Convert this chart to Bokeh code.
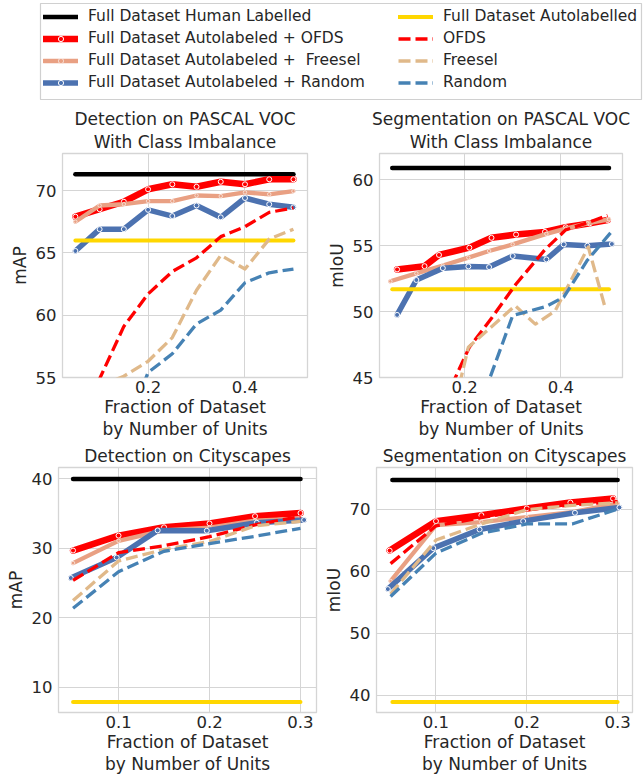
from bokeh.plotting import figure
from bokeh.models import Range1d, FixedTicker, Legend, LegendItem, Title
from bokeh.layouts import column, row
from bokeh.embed import file_html
from bokeh.resources import INLINE

FONT = "DejaVu Sans"
TXT = "#262626"
GRID = "#d5d5d5"

# ---------------- labels ----------------
series_labels = [
    "Full Dataset Human Labelled",
    "Full Dataset Autolabeled + OFDS",
    "Full Dataset Autolabeled +  Freesel",
    "Full Dataset Autolabeled + Random",
    "Full Dataset Autolabelled",
    "OFDS",
    "Freesel",
    "Random",
]
titles = [
    ["Detection on PASCAL VOC", "With Class Imbalance"],
    ["Segmentation on PASCAL VOC", "With Class Imbalance"],
    ["Detection on Cityscapes"],
    ["Segmentation on Cityscapes"],
]
xlabel = "Fraction of Dataset\nby Number of Units"
ylabels = ["mAP", "mIoU", "mAP", "mIoU"]

# ---------------- panel 1: detection on VOC ----------------
voc_det_x = [0.05, 0.10, 0.15, 0.20, 0.25, 0.30, 0.35, 0.40, 0.45, 0.50]
voc_det_ref_x = [0.05, 0.50]
voc_det_human = [71.3, 71.3]
voc_det_auto = [66.0, 66.0]
voc_det_ofds_plus = [67.9, 68.5, 69.1, 70.1, 70.5, 70.3, 70.7, 70.5, 70.9, 70.9]
voc_det_freesel_plus = [67.5, 68.8, 68.9, 69.15, 69.15, 69.6, 69.55, 69.85, 69.7, 69.95]
voc_det_random_plus = [65.15, 66.9, 66.9, 68.45, 67.95, 68.8, 67.85, 69.4, 68.9, 68.65]
voc_det_ofds = [51.0, 54.9, 59.1, 61.7, 63.5, 64.6, 66.3, 67.1, 68.25, 68.6]
voc_det_freesel = [52.5, 54.3, 55.1, 56.3, 58.2, 62.0, 64.8, 63.7, 66.1, 66.9]
voc_det_random = [45.0, 48.0, 50.5, 55.4, 56.9, 59.3, 60.4, 62.6, 63.4, 63.7]

# ---------------- panel 2: segmentation on VOC ----------------
voc_seg_ref_x = [0.05, 0.50]
voc_seg_human = [60.9, 60.9]
voc_seg_auto = [51.7, 51.7]
voc_seg_ofds_x = [0.06, 0.117, 0.147, 0.21, 0.256, 0.307, 0.367, 0.41, 0.46, 0.497]
voc_seg_ofds_plus = [53.2, 53.45, 54.3, 54.85, 55.6, 55.85, 56.05, 56.4, 56.7, 56.95]
voc_seg_freesel_plus_x = [0.046, 0.10, 0.155, 0.208, 0.251, 0.30, 0.37, 0.41, 0.455, 0.50]
voc_seg_freesel_plus = [52.3, 52.9, 53.5, 54.1, 54.6, 55.1, 55.9, 56.3, 56.7, 57.0]
voc_seg_random_x = [0.06, 0.10, 0.155, 0.208, 0.251, 0.30, 0.37, 0.406, 0.455, 0.506]
voc_seg_random_plus = [49.75, 52.4, 53.3, 53.43, 53.38, 54.22, 53.96, 55.1, 55.0, 55.13]
voc_seg_ofds = [38.0, 40.0, 42.3, 47.3, 49.5, 52.1, 54.7, 56.2, 56.8, 57.3]
voc_seg_freesel_x = [0.06, 0.10, 0.15, 0.208, 0.25, 0.305, 0.347, 0.388, 0.457, 0.492]
voc_seg_freesel = [36.0, 37.0, 38.4, 47.3, 48.65, 50.45, 49.05, 50.05, 54.9, 50.3]
voc_seg_random = [36.0, 38.0, 40.0, 42.0, 44.8, 49.7, 50.4, 51.1, 53.9, 56.1]

# ---------------- panel 3: detection on Cityscapes ----------------
cs_det_x = [0.05, 0.10, 0.15, 0.20, 0.25, 0.30]
cs_det_random_x = [0.0475, 0.098, 0.143, 0.197, 0.252, 0.304]
cs_det_ref_x = [0.05, 0.30]
cs_det_human = [40.0, 40.0]
cs_det_auto = [7.9, 7.9]
cs_det_ofds_plus = [29.7, 31.85, 33.05, 33.6, 34.65, 35.1]
cs_det_freesel_plus = [27.9, 31.1, 32.6, 33.0, 34.0, 34.3]
cs_det_random_plus = [25.75, 28.7, 32.6, 32.55, 33.7, 34.1]
cs_det_ofds = [25.4, 29.4, 30.4, 31.7, 33.4, 34.6]
cs_det_freesel = [22.5, 28.2, 29.85, 31.0, 33.25, 33.9]
cs_det_random = [21.4, 26.65, 29.6, 30.7, 31.75, 32.9]

# ---------------- panel 4: segmentation on Cityscapes ----------------
cs_seg_x = [0.05, 0.10, 0.15, 0.20, 0.25, 0.30]
cs_seg_ofds_x = [0.049, 0.10, 0.15, 0.20, 0.248, 0.295]
cs_seg_random_x = [0.047, 0.097, 0.148, 0.196, 0.253, 0.302]
cs_seg_ref_x = [0.052, 0.30]
cs_seg_human = [74.7, 74.7]
cs_seg_auto = [38.9, 38.9]
cs_seg_ofds_plus = [63.3, 68.05, 69.0, 70.1, 71.05, 71.7]
cs_seg_freesel_plus = [58.4, 67.4, 67.9, 68.7, 69.5, 70.9]
cs_seg_random_plus = [57.1, 63.7, 66.7, 68.05, 69.4, 70.26]
cs_seg_ofds = [61.2, 67.3, 68.6, 69.9, 70.7, 71.2]
cs_seg_freesel = [56.3, 65.0, 67.6, 69.9, 70.6, 71.0]
cs_seg_random = [55.9, 62.9, 66.1, 67.6, 67.6, 70.0]

# ---------------- styles ----------------
SALMON = "#e9a083"
styles = [
    dict(color="#000000", width=4.5, dash="solid", marker=False),
    dict(color="#ff0000", width=6.5, dash="solid", marker=True),
    dict(color=SALMON, width=4.3, dash="solid", marker=True),
    dict(color="#4c72b0", width=5.5, dash="solid", marker=True),
    dict(color="#ffd700", width=4.0, dash="solid", marker=False),
    dict(color="#ff0000", width=3.3, dash="12 5", marker=False),
    dict(color="#e0b98a", width=3.3, dash="12 5", marker=False),
    dict(color="#4682b4", width=3.3, dash="12 5", marker=False),
]


def draw(p, xs, ys, st):
    rs = [p.line(xs, ys, line_color=st["color"], line_width=st["width"],
                 line_dash=st["dash"],
                 line_cap="round" if st["dash"] == "solid" else "butt",
                 line_join="round")]
    if st["marker"]:
        msize = 3.5 if st["color"] == SALMON else 5
        rs.append(p.scatter(xs, ys, size=msize, fill_color=st["color"],
                            line_color="white", line_width=1,
                            line_alpha=0.6 if msize < 4 else 1.0))
    return rs


def panel(title_lines, ylabel, xr, yr, xticks, yticks, w, h, bl, br, bt, bb):
    p = figure(width=w, height=h, x_range=Range1d(*xr), y_range=Range1d(*yr),
               output_backend="svg", toolbar_location=None,
               min_border_left=bl, min_border_right=br,
               min_border_top=bt, min_border_bottom=bb)
    # closest line to the frame is added first
    for k, line in enumerate(reversed(title_lines)):
        t = Title(text=line, align="center", text_font=FONT, text_font_size="17px",
                  text_font_style="normal", text_color=TXT,
                  standoff=3 if k == 0 else 0)
        p.add_layout(t, "above")
    p.xaxis.ticker = FixedTicker(ticks=xticks)
    p.yaxis.ticker = FixedTicker(ticks=yticks)
    p.xaxis.axis_label = xlabel
    p.yaxis.axis_label = ylabel
    for ax in (p.xaxis[0], p.yaxis[0]):
        ax.axis_line_color = None
        ax.major_tick_line_color = None
        ax.minor_tick_line_color = None
        ax.major_tick_out = 0
        ax.major_tick_in = 0
        ax.major_label_text_font = FONT
        ax.major_label_text_font_size = "16.5px"
        ax.major_label_text_color = TXT
        ax.axis_label_text_font = FONT
        ax.axis_label_text_font_size = "17px"
        ax.axis_label_text_font_style = "normal"
        ax.axis_label_text_color = TXT
        ax.axis_label_text_line_height = 1.12
    p.xaxis[0].major_label_standoff = 3
    p.xaxis[0].axis_label_standoff = 1
    p.yaxis[0].major_label_standoff = 6
    p.yaxis[0].axis_label_standoff = 3
    p.xgrid.grid_line_color = GRID
    p.ygrid.grid_line_color = GRID
    p.outline_line_color = GRID
    p.outline_line_width = 1.3
    p.background_fill_color = "white"
    p.border_fill_color = "white"
    return p


def fill(p, data):
    # data: list of 8 (x, y) pairs in plotting order
    return [draw(p, xs, ys, styles[i]) for i, (xs, ys) in enumerate(data)]


p1 = panel(titles[0], ylabels[0], (0.0234, 0.529), (55, 72.97), [0.2, 0.4],
           [55, 60, 65, 70], 320, 338, 62, 13, 50, 64)
fill(p1, [(voc_det_ref_x, voc_det_human), (voc_det_x, voc_det_ofds_plus),
          (voc_det_x, voc_det_freesel_plus), (voc_det_x, voc_det_random_plus),
          (voc_det_ref_x, voc_det_auto), (voc_det_x, voc_det_ofds),
          (voc_det_x, voc_det_freesel), (voc_det_x, voc_det_random)])

p2 = panel(titles[1], ylabels[1], (0.0235, 0.528), (45, 62.0), [0.2, 0.4],
           [45, 50, 55, 60], 324, 338, 59, 22, 50, 64)
fill(p2, [(voc_seg_ref_x, voc_seg_human), (voc_seg_ofds_x, voc_seg_ofds_plus),
          (voc_seg_freesel_plus_x, voc_seg_freesel_plus),
          (voc_seg_random_x, voc_seg_random_plus),
          (voc_seg_ref_x, voc_seg_auto), (voc_seg_ofds_x, voc_seg_ofds),
          (voc_seg_freesel_x, voc_seg_freesel), (voc_seg_random_x, voc_seg_random)])

p3 = panel(titles[2], ylabels[2], (0.034, 0.3176), (6.4, 41.65), [0.1, 0.2, 0.3],
           [10, 20, 30, 40], 320, 335, 58, 4, 26, 59)
fill(p3, [(cs_det_ref_x, cs_det_human), (cs_det_x, cs_det_ofds_plus),
          (cs_det_x, cs_det_freesel_plus), (cs_det_random_x, cs_det_random_plus),
          (cs_det_ref_x, cs_det_auto), (cs_det_x, cs_det_ofds),
          (cs_det_x, cs_det_freesel), (cs_det_x, cs_det_random)])

p4 = panel(titles[3], ylabels[3], (0.0345, 0.3164), (37.2, 76.7), [0.1, 0.2, 0.3],
           [40, 50, 60, 70], 324, 335, 53, 12, 26, 59)
fill(p4, [(cs_seg_ref_x, cs_seg_human), (cs_seg_ofds_x, cs_seg_ofds_plus),
          (cs_seg_x, cs_seg_freesel_plus), (cs_seg_random_x, cs_seg_random_plus),
          (cs_seg_ref_x, cs_seg_auto), (cs_seg_x, cs_seg_ofds),
          (cs_seg_x, cs_seg_freesel), (cs_seg_x, cs_seg_random)])

# ---------------- legend figure ----------------
pl = figure(width=644, height=103, x_range=Range1d(0, 1), y_range=Range1d(0, 1),
            x_axis_type=None, y_axis_type=None, output_backend="svg",
            toolbar_location=None, min_border_left=40, min_border_right=3,
            min_border_top=3, min_border_bottom=4)
pl.grid.visible = False
pl.outline_line_color = "#d0d0d0"
pl.outline_line_width = 1.2
pl.background_fill_color = "white"
pl.border_fill_color = "white"
# legend-only renderers (their data lies outside this figure's visible range)
leg_renderers = fill(pl, [(voc_det_ref_x, voc_det_human), (voc_det_x, voc_det_ofds_plus),
                          (voc_det_x, voc_det_freesel_plus), (voc_det_x, voc_det_random_plus),
                          (voc_det_ref_x, voc_det_auto), (voc_det_x, voc_det_ofds),
                          (voc_det_x, voc_det_freesel), (voc_det_x, voc_det_random)])


def mk_legend(idx, loc):
    lg = Legend(items=[LegendItem(label=series_labels[i], renderers=leg_renderers[i]) for i in idx],
                location=loc, orientation="vertical")
    lg.glyph_width = 35
    lg.glyph_height = 13
    lg.label_height = 20
    lg.label_standoff = 10
    lg.spacing = 2
    lg.padding = 0
    lg.margin = 0
    lg.border_line_color = None
    lg.background_fill_alpha = 0
    lg.label_text_font = FONT
    lg.label_text_font_size = "15.5px"
    lg.label_text_color = TXT
    return lg


pl.add_layout(mk_legend([0, 1, 2, 3], (3, 7)))
pl.add_layout(mk_legend([4, 5, 6, 7], (358, 7)))

layout = column(pl, row(p1, p2), row(p3, p4))
open("out.html", "w").write(file_html(layout, INLINE))
